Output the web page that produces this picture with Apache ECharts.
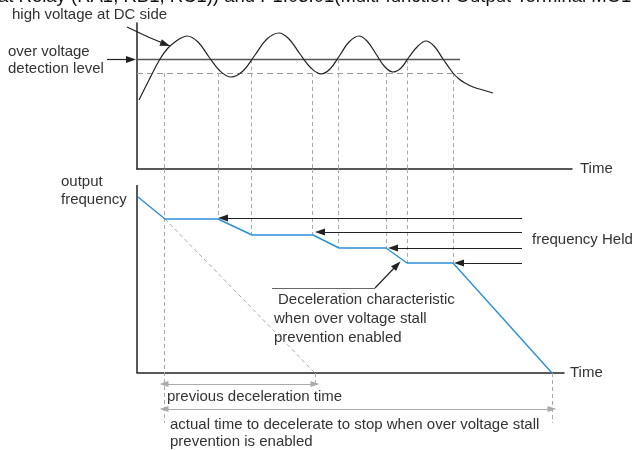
<!DOCTYPE html>
<html>
<head>
<meta charset="utf-8">
<script src="https://cdn.jsdelivr.net/npm/echarts@6/dist/echarts.min.js"></script>
<style>html,body{margin:0;padding:0;background:#fff}#c{width:633px;height:450px}</style>
</head>
<body>
<div id="c"></div>
<script>
// ---- data (time units along x, voltage / frequency units along y) ----
const timeLabel = 'Time';
const voltT = [2, 11, 23, 31, 38, 44, 50, 61, 72, 83, 94, 106, 118, 130, 142, 152, 163, 174, 184, 193, 203, 212, 222, 230, 239, 248, 256, 264, 272, 281, 289, 297, 306, 316, 322, 328, 336, 346, 356];
const voltV = [69, 87, 110, 121, 127, 131, 133, 127, 112, 98, 92, 98, 114, 130, 136, 130, 115, 101, 95, 100, 114, 127, 133, 128, 115, 102, 97, 101, 112, 123, 128, 123, 110, 96, 90, 86, 82, 79, 76];
const overVoltLevel = 109.5;
const releaseLevel = 96;
const levelEndT = [323, 330];
const freqT = [1, 28, 81, 115, 176, 202, 249, 270, 316, 415];
const freqV = [176, 154, 154, 138, 138, 125, 125, 110, 110, 0];
const prevDecelT = [28, 178];
const prevDecelV = [154, 0];
const stallT = [27, 81, 114, 175, 201, 249, 270, 316];
const stallTopV = [96, 96, 109.5, 96, 109.5, 96, 109.5, 96];
const stallBottomV = [-50, 155, 138, 138, 125, 125, 110, 110];
const heldArrowV = [155, 141, 125, 110];
const heldArrowTipT = [86, 183, 256, 322];
const heldArrowTailT = 385;
const stopT = 415;
const prevDimV = -11, actualDimV = -36;
// annotation pointers in the voltage panel (time, voltage)
const levelPointerFrom = [-30, overVoltLevel], levelPointerTo = [-1, overVoltLevel];
const highPointerFrom = [-10, 142], highPointerCtrl = [12, 131], highPointerTo = [33, 123];

const texts = {
  title: 'at Relay (RA1, RB1, RC1)) and P1.03.01(Multi-function Output Terminal MO1',
  high: 'high voltage at DC side',
  ov1: 'over voltage', ov2: 'detection level',
  out1: 'output', out2: 'frequency',
  held: 'frequency Held',
  dec1: 'Deceleration characteristic', dec2: 'when over voltage stall', dec3: 'prevention enabled',
  prev: 'previous deceleration time',
  act1: 'actual time to decelerate to stop when over voltage stall', act2: 'prevention is enabled'
};

// ---- styles ----
const NF = "'Liberation Sans Narrow', 'Liberation Sans', sans-serif";
const txtCol = '#333';
const axisCol = '#222';
const gray = '#aaa';
const blue = '#2b8fd6';

const chart = echarts.init(document.getElementById('c'), null, {renderer: 'canvas'});

function seg(x1, y1, x2, y2, style, startSym, endSym, symSize) {
  return [
    {coord: [x1, y1], symbol: startSym || 'none', symbolSize: symSize || [7, 10], lineStyle: style},
    {coord: [x2, y2], symbol: endSym || 'none', symbolSize: symSize || [7, 10]}
  ];
}
const dash = {color: gray, width: 1, type: [4, 3]};
const blk = {color: '#222', width: 1.2, type: 'solid'};

const topMarks = [];
topMarks.push(seg(0, overVoltLevel, levelEndT[0], overVoltLevel, {color: '#555', width: 1.3, type: 'solid'}));
topMarks.push(seg(0, releaseLevel, levelEndT[1], releaseLevel, {color: '#999', width: 1, type: [6, 4]}));
stallT.forEach((t, i) => topMarks.push(seg(t, stallTopV[i], t, 0, dash)));

const botMarks = [];
botMarks.push(seg(0, 0, 0, 188, {color: axisCol, width: 1.5, type: 'solid'}));
stallT.forEach((t, i) => botMarks.push(seg(t, 204, t, stallBottomV[i], dash)));
botMarks.push(seg(prevDecelT[0], prevDecelV[0], prevDecelT[1], prevDecelV[1], {color: gray, width: 1, type: [4, 3]}));
botMarks.push(seg(prevDecelT[1], 0, prevDecelT[1], -14, dash));
botMarks.push(seg(stopT, 0, stopT, -50, dash));
botMarks.push(seg(stallT[0], prevDimV, prevDecelT[1], prevDimV, {color: gray, width: 1.2, type: 'solid'}, 'triangle', 'triangle', [6, 9]));
botMarks.push(seg(stallT[0], actualDimV, stopT, actualDimV, {color: gray, width: 1.2, type: 'solid'}, 'triangle', 'triangle', [6, 9]));
heldArrowV.forEach((v, i) => botMarks.push(seg(heldArrowTailT, v, heldArrowTipT[i], v, blk, 'none', 'triangle')));
botMarks.push(seg(135, 85, 238, 85, {color: '#666', width: 1.2, type: 'solid'}));
botMarks.push(seg(238, 85, 260, 108, blk, 'none', 'triangle'));

function tx(text, x, y, size) {
  return {
    type: 'text', x: x, y: y, silent: true,
    style: {text: text, font: size + 'px ' + NF, fill: txtCol, align: 'left', verticalAlign: 'middle'}
  };
}

const option = {
  animation: false,
  backgroundColor: '#fff',
  grid: [
    {left: 137, top: 23, width: 435, height: 146},
    {left: 137, top: 169, width: 427, height: 281}
  ],
  xAxis: [
    {gridIndex: 0, type: 'value', min: 0, max: 435, name: timeLabel, nameLocation: 'end', nameGap: 8,
      nameTextStyle: {fontFamily: NF, fontSize: 15, color: txtCol},
      axisLine: {show: true, lineStyle: {color: axisCol, width: 1.5}}, axisTick: {show: false}, axisLabel: {show: false}, splitLine: {show: false}},
    {gridIndex: 1, type: 'value', min: 0, max: 427, name: timeLabel, nameLocation: 'end', nameGap: 6,
      nameTextStyle: {fontFamily: NF, fontSize: 15, color: txtCol},
      axisLine: {show: true, onZero: true, lineStyle: {color: axisCol, width: 1.5}}, axisTick: {show: false}, axisLabel: {show: false}, splitLine: {show: false}}
  ],
  yAxis: [
    {gridIndex: 0, type: 'value', min: 0, max: 146,
      axisLine: {show: true, lineStyle: {color: axisCol, width: 1.5}}, axisTick: {show: false}, axisLabel: {show: false}, splitLine: {show: false}},
    {gridIndex: 1, type: 'value', min: -77, max: 204,
      axisLine: {show: false}, axisTick: {show: false}, axisLabel: {show: false}, splitLine: {show: false}}
  ],
  series: [
    {type: 'line', xAxisIndex: 0, yAxisIndex: 0, data: voltT.map((t, i) => [t, voltV[i]]),
      smooth: 0.4, symbol: 'none', clip: false, z: 5,
      lineStyle: {color: '#222', width: 1.2},
      markLine: {silent: true, animation: false, label: {show: false}, symbol: 'none', data: topMarks}},
    {type: 'line', xAxisIndex: 1, yAxisIndex: 1, data: freqT.map((t, i) => [t, freqV[i]]),
      symbol: 'none', clip: false, z: 5,
      lineStyle: {color: blue, width: 1.4},
      markLine: {silent: true, animation: false, label: {show: false}, symbol: 'none', data: botMarks}}
  ]
};
chart.setOption(option);

// pointers that start left of the voltage panel: placed through the panel's own scales
function px(p) { return chart.convertToPixel({gridIndex: 0}, p); }
function head(tip, from) {
  const dx = tip[0] - from[0], dy = tip[1] - from[1];
  const L = Math.hypot(dx, dy) || 1, ux = dx / L, uy = dy / L;
  const bx = tip[0] - ux * 10, by = tip[1] - uy * 10;
  return {type: 'polygon', silent: true, z: 10,
    shape: {points: [tip, [bx - uy * 3.5, by + ux * 3.5], [bx + uy * 3.5, by - ux * 3.5]]},
    style: {fill: '#222'}};
}
const a1 = px(levelPointerFrom), a2 = px(levelPointerTo);
const b1 = px(highPointerFrom), bc = px(highPointerCtrl), b2 = px(highPointerTo);
const graphics = [
  {type: 'text', x: -2, y: -3, silent: true, style: {text: texts.title, font: "18.5px 'Liberation Sans', Arial, sans-serif", fill: '#111', align: 'left', verticalAlign: 'middle'}},
  tx(texts.high, 12, 15, 15),
  tx(texts.ov1, 8, 52, 15), tx(texts.ov2, 8, 69, 15),
  tx(texts.out1, 61, 182, 15), tx(texts.out2, 61, 200, 15),
  tx(texts.held, 532, 240, 15),
  tx(texts.dec1, 278, 300, 15), tx(texts.dec2, 274, 319, 15), tx(texts.dec3, 274, 338, 15),
  tx(texts.prev, 167, 397, 15),
  tx(texts.act1, 170, 425, 15), tx(texts.act2, 170, 442, 15),
  {type: 'line', silent: true, z: 10, shape: {x1: a1[0], y1: a1[1], x2: a2[0] - 8, y2: a2[1]}, style: {stroke: '#222', lineWidth: 1.2}},
  head(a2, a1),
  {type: 'bezierCurve', silent: true, z: 10, shape: {x1: b1[0], y1: b1[1], x2: b2[0], y2: b2[1], cpx1: bc[0], cpy1: bc[1]}, style: {stroke: '#222', lineWidth: 1.2, fill: 'none'}},
  head(b2, bc)
];
chart.setOption({graphic: graphics});
</script>
</body>
</html>
